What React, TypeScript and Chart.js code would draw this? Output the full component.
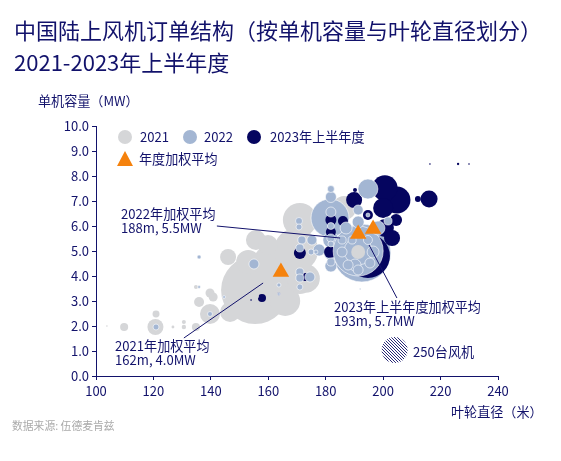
import React, { useEffect, useRef } from "react";
import { Chart, registerables } from "chart.js";

Chart.register(...registerables);

type T = [number, number, number];

// [rotor diameter m, capacity MW, turbines]
const grey2021: T[] = [
  [155.4, 3.44, 1710], [163.4, 4.24, 1160], [169.7, 5.04, 716], [171, 6.24, 427], [165.9, 3.0, 330],
  [173, 3.9, 300], [153, 4.56, 213], [171, 3.76, 213], [155.7, 5.44, 148], [159.9, 5.24, 148],
  [139.7, 2.48, 148], [146.7, 2.56, 148], [186.4, 6.72, 213], [120.7, 1.96, 95], [146, 4.76, 95],
  [135.9, 2.96, 37], [139.7, 3.32, 30], [140.8, 3.16, 30], [109.8, 1.96, 24], [134.8, 1.96, 24],
  [120.9, 2.48, 18], [130.6, 1.96, 7], [130.6, 2.16, 6], [134.8, 3.56, 6], [126.8, 1.96, 3],
  [103.8, 2.0, 1],
];
const blueBack2022: T[] = [
  [192.6, 4.92, 1244], [181.5, 6.32, 534], [181.8, 5.44, 95], [181.8, 4.92, 72],
  [181.8, 4.4, 53], [177.7, 5.04, 53], [175.2, 5.44, 37], [181.8, 7.16, 45], [181.8, 7.48, 18],
];
const navy2023: T[] = [
  [194.7, 4.8, 716], [204.8, 7.04, 270], [200.6, 7.52, 240], [200, 6.72, 148], [200.6, 5.92, 120],
  [216, 7.08, 107], [189.9, 7.04, 95], [203.1, 5.52, 95], [204.5, 6.24, 53], [181.5, 4.96, 53],
  [171, 4.92, 53], [186, 6.2, 37], [181.8, 6.24, 45], [181.8, 5.76, 37], [194.7, 6.44, 37],
  [172.8, 3.96, 24], [157.8, 3.12, 24], [212.1, 7.08, 13], [190.2, 7.44, 6], [163.7, 3.28, 3],
  [226.1, 8.48, 2], [216.3, 8.48, 1], [229.9, 8.48, 1], [154, 3.04, 1],
];
const blueFront2022: T[] = [
  [191.3, 5.0, 925], [191.3, 5.0, 290], [194.7, 7.48, 148], [198.2, 5.92, 72], [190.2, 4.44, 53],
  [196.5, 4.96, 53], [187.1, 5.92, 53], [191.3, 6.16, 53], [185.7, 4.96, 37], [187.8, 4.44, 37],
  [195.4, 4.52, 37], [191.3, 6.64, 37], [155, 4.48, 37], [174.5, 3.96, 37], [189.2, 5.44, 24],
  [194.7, 5.44, 30], [185.7, 5.44, 24], [191.3, 4.24, 37], [201.7, 6.2, 24], [171.7, 5.44, 24],
  [171, 4.16, 24], [171, 3.92, 24], [171, 5.12, 24], [181.8, 6.56, 37], [181.8, 6.0, 18],
  [181.8, 5.52, 24], [181.8, 5.28, 13], [181.8, 4.56, 24], [170.7, 6.2, 18], [170.7, 5.96, 13],
  [120.9, 1.96, 13], [171, 3.56, 13], [139.7, 2.48, 9], [174.9, 4.96, 13], [176.6, 4.96, 6],
  [135.9, 4.76, 6], [194.7, 6.44, 6], [163.7, 3.64, 6], [135.9, 3.56, 3], [144.6, 3.16, 3],
  [163.7, 3.28, 3], [192, 3.48, 1],
];
const greyFront2021: T[] = [[191.3, 4.96, 72], [155.7, 3.2, 13]];
const averages: [number, number][] = [[164.4, 4.16], [191.3, 5.68], [196.5, 5.88]];
const scaleBubble: T[] = [[204, 1.04, 250]];
const leader2021 = [{ x: 130.6, y: 1.52 }, { x: 158.2, y: 3.72 }];
const leader2022 = [{ x: 142.1, y: 6.0 }, { x: 185, y: 5.52 }];
const leader2023 = [{ x: 195.1, y: 5.24 }, { x: 204.8, y: 3.12 }];

const title = ["中国陆上风机订单结构（按单机容量与叶轮直径划分）", "2021-2023年上半年度"];
const FONT = '"Noto Sans CJK SC", "Noto Sans", sans-serif';
const INK = "#12126b";
const NAVY = "#05055f";
const GREY = "#d5d6d8";
const BLUE = "#a3b6d3";
const ORANGE = "#f5820d";

const points = (rows: T[]) =>
  rows.map(([x, y, n]) => ({ x, y, r: (13 * Math.sqrt(n)) / Math.sqrt(250) }));

const labels: [string, number, number][] = [
  ["单机容量（MW）", 38, 101],
  ["叶轮直径（米）", 451, 412],
  ["2021", 140, 137],
  ["2022", 204, 137],
  ["2023年上半年度", 270, 137],
  ["年度加权平均", 139, 159],
  ["2022年加权平均", 121, 214],
  ["188m, 5.5MW", 121, 228],
  ["2021年加权平均", 115, 346],
  ["162m, 4.0MW", 115, 360],
  ["2023年上半年度加权平均", 334, 307],
  ["193m, 5.7MW", 334, 321],
  ["250台风机", 413, 352],
];

const textPlugin = {
  id: "texts",
  afterDraw(chart: any) {
    const c = chart.ctx;
    c.save();
    c.textBaseline = "middle";
    c.textAlign = "left";
    c.font = `22px ${FONT}`;
    c.fillStyle = INK;
    c.fillText(title[0], 14, 31);
    c.fillText(title[1], 14, 63);
    c.font = `13.1px ${FONT}`;
    labels.forEach(([t, x, y]) => c.fillText(t, x, y));
    c.font = `10.8px ${FONT}`;
    c.fillStyle = "#aaaaaa";
    c.fillText("数据来源: 伍德麦肯兹", 12, 426);
    ([[125, GREY], [190, BLUE], [254, NAVY]] as [number, string][]).forEach(([x, col]) => {
      c.beginPath();
      c.arc(x, 137, 7, 0, Math.PI * 2);
      c.fillStyle = col;
      c.fill();
    });
    c.beginPath();
    c.moveTo(125, 151);
    c.lineTo(133, 166);
    c.lineTo(117, 166);
    c.closePath();
    c.fillStyle = ORANGE;
    c.fill();
    c.restore();
  },
};

function hatch(): CanvasPattern | string {
  const p = document.createElement("canvas");
  p.width = 3;
  p.height = 3;
  const c = p.getContext("2d");
  if (!c) return BLUE;
  c.fillStyle = "#ffffff";
  c.fillRect(0, 0, 3, 3);
  c.strokeStyle = "#2a2a78";
  c.lineWidth = 1;
  c.beginPath();
  c.moveTo(0, 0);
  c.lineTo(3, 3);
  c.moveTo(-1, 2);
  c.lineTo(1, 4);
  c.moveTo(2, -1);
  c.lineTo(4, 1);
  c.stroke();
  return c.createPattern(p, "repeat") || BLUE;
}

export default function App() {
  const ref = useRef<HTMLCanvasElement>(null);
  useEffect(() => {
    if (!ref.current) return;
    const line = (data: any[], label: string) => ({
      type: "line" as const,
      label,
      data,
      order: 1,
      borderColor: INK,
      borderWidth: 1,
      pointRadius: 0,
      fill: false,
    });
    const chart = new Chart(ref.current, {
      type: "bubble",
      data: {
        datasets: [
          {
            label: "年度加权平均",
            data: averages.map(([x, y]) => ({ x, y, r: 9.5 })),
            order: 0,
            pointStyle: "triangle",
            backgroundColor: ORANGE,
            borderColor: ORANGE,
            borderWidth: 0,
          },
          line(leader2021, "l21"),
          line(leader2022, "l22"),
          line(leader2023, "l23"),
          { label: "2021 front", data: points(greyFront2021), order: 2, backgroundColor: GREY, borderColor: GREY, borderWidth: 0 },
          { label: "2022 front", data: points(blueFront2022), order: 3, backgroundColor: BLUE, borderColor: "rgba(255,255,255,0.75)", borderWidth: 0.8 },
          { label: "2023上半年", data: points(navy2023), order: 4, backgroundColor: NAVY, borderColor: NAVY, borderWidth: 0 },
          { label: "2022", data: points(blueBack2022), order: 5, backgroundColor: BLUE, borderColor: "rgba(255,255,255,0.75)", borderWidth: 0.8 },
          { label: "2021", data: points(grey2021), order: 6, backgroundColor: GREY, borderColor: GREY, borderWidth: 0 },
          { label: "250台风机", data: points(scaleBubble), order: 7, backgroundColor: hatch(), borderWidth: 0 },
        ] as any,
      },
      options: {
        responsive: false,
        animation: false,
        layout: { padding: { left: 14, right: 63, top: 126, bottom: 0 } },
        plugins: {
          legend: { display: false },
          tooltip: { enabled: false },
          title: { display: false },
        },
        scales: {
          x: {
            type: "linear",
            min: 100,
            max: 240,
            afterFit: (s: any) => { s.height = 85; },
            ticks: { stepSize: 20, color: INK, font: { family: FONT, size: 13 }, padding: 3, maxRotation: 0 },
            grid: { drawOnChartArea: false, drawTicks: true, color: INK, tickLength: 4 },
            border: { color: INK, width: 1 },
          },
          y: {
            type: "linear",
            min: 0,
            max: 10,
            afterFit: (s: any) => { s.width = 82; },
            ticks: {
              stepSize: 1,
              color: INK,
              font: { family: FONT, size: 13 },
              padding: 3,
              callback: (v: any) => Number(v).toFixed(1),
            },
            grid: { drawOnChartArea: false, drawTicks: true, color: INK, tickLength: 4 },
            border: { color: INK, width: 1 },
          },
        },
      },
      plugins: [textPlugin],
    } as any);
    return () => chart.destroy();
  }, []);
  return (
    <canvas
      ref={ref}
      width={561}
      height={461}
      style={{ position: "fixed", left: 0, top: 0, width: 561, height: 461, background: "#fff" }}
    />
  );
}
